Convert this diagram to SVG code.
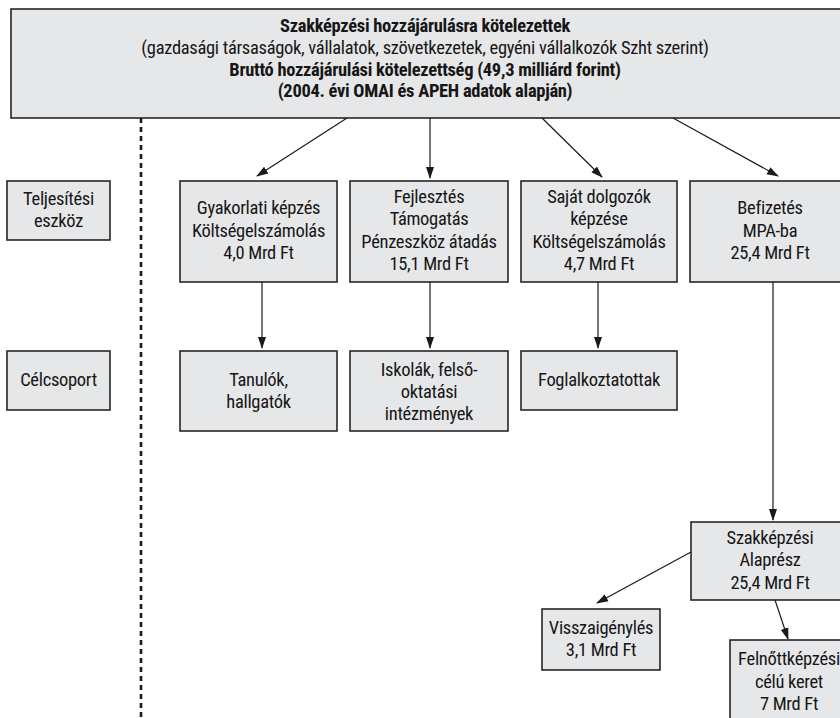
<svg xmlns="http://www.w3.org/2000/svg" width="840" height="718" viewBox="0 0 840 718">
<defs>
<style>
.box{fill:#e6e7e9;stroke:#262626;stroke-width:1.6}
.t{font-family:"Liberation Sans Narrow","Roboto Condensed","DejaVu Sans Condensed","Liberation Sans",sans-serif;font-size:18.5px;letter-spacing:-0.3px;fill:#161616;text-anchor:middle}
.b{font-weight:bold}
.c{stroke:#1a1a1a;stroke-width:1.2;fill:none;marker-end:url(#ah)}
</style>
<marker id="ah" markerUnits="userSpaceOnUse" markerWidth="12" markerHeight="10" viewBox="0 0 12 10" refX="11" refY="5" orient="auto">
<path d="M0,1 L12,5 L0,9 Z" fill="#1a1a1a"/>
</marker>
</defs>
<rect width="840" height="718" fill="#ffffff"/>
<g id="divider"><line x1="141" y1="118" x2="141" y2="718" stroke="#1a1a1a" stroke-width="2.6" stroke-dasharray="5,4"/></g>
<g id="top">
<rect class="box" x="11" y="9" width="840" height="109"/>
<text class="t b" x="425" y="32">Szakképzési hozzájárulásra kötelezettek</text>
<text class="t" x="425" y="54">(gazdasági társaságok, vállalatok, szövetkezetek, egyéni vállalkozók Szht szerint)</text>
<text class="t b" x="425" y="76">Bruttó hozzájárulási kötelezettség (49,3 milliárd forint)</text>
<text class="t b" x="425" y="97">(2004. évi OMAI és APEH adatok alapján)</text>
</g>
<g id="teljesitesi">
<rect class="box" x="7" y="181" width="103" height="59"/>
<text class="t" x="58.5" y="205">Teljesítési</text>
<text class="t" x="58.5" y="227">eszköz</text>
</g>
<g id="celcsoport">
<rect class="box" x="7" y="351" width="103" height="59"/>
<text class="t" x="58.5" y="386">Célcsoport</text>
</g>
<g id="gyakorlati">
<rect class="box" x="180" y="181" width="157" height="101"/>
<text class="t" x="258.5" y="214">Gyakorlati képzés</text>
<text class="t" x="258.5" y="237">Költségelszámolás</text>
<text class="t" x="258.5" y="259">4,0 Mrd Ft</text>
</g>
<g id="fejlesztes">
<rect class="box" x="350" y="181" width="158" height="101"/>
<text class="t" x="429" y="203">Fejlesztés</text>
<text class="t" x="429" y="225">Támogatás</text>
<text class="t" x="429" y="248">Pénzeszköz átadás</text>
<text class="t" x="429" y="270">15,1 Mrd Ft</text>
</g>
<g id="sajat">
<rect class="box" x="521" y="181" width="156" height="101"/>
<text class="t" x="599" y="203">Saját dolgozók</text>
<text class="t" x="599" y="225">képzése</text>
<text class="t" x="599" y="248">Költségelszámolás</text>
<text class="t" x="599" y="270">4,7 Mrd Ft</text>
</g>
<g id="befizetes">
<rect class="box" x="690" y="181" width="160" height="101"/>
<text class="t" x="770" y="214">Befizetés</text>
<text class="t" x="770" y="237">MPA-ba</text>
<text class="t" x="770" y="259">25,4 Mrd Ft</text>
</g>
<g id="tanulok">
<rect class="box" x="180" y="351" width="157" height="80"/>
<text class="t" x="258.5" y="386">Tanulók,</text>
<text class="t" x="258.5" y="408">hallgatók</text>
</g>
<g id="iskolak">
<rect class="box" x="350" y="351" width="158" height="80"/>
<text class="t" x="429" y="376">Iskolák, felső-</text>
<text class="t" x="429" y="398">oktatási</text>
<text class="t" x="429" y="420">intézmények</text>
</g>
<g id="foglalkoztatottak">
<rect class="box" x="521" y="351" width="156" height="59"/>
<text class="t" x="599" y="386">Foglalkoztatottak</text>
</g>
<g id="szakkepzesi">
<rect class="box" x="691" y="522" width="160" height="78"/>
<text class="t" x="770" y="544">Szakképzési</text>
<text class="t" x="770" y="566">Alaprész</text>
<text class="t" x="770" y="589">25,4 Mrd Ft</text>
</g>
<g id="visszaigenyles">
<rect class="box" x="542" y="609" width="118" height="61"/>
<text class="t" x="601" y="634">Visszaigénylés</text>
<text class="t" x="601" y="656">3,1 Mrd Ft</text>
</g>
<g id="felnottkepzesi">
<rect class="box" x="730" y="640" width="120" height="90"/>
<text class="t" x="789" y="665">Felnőttképzési</text>
<text class="t" x="789" y="688">célú keret</text>
<text class="t" x="789" y="710">7 Mrd Ft</text>
</g>
<g id="connectors">
<line class="c" x1="347" y1="118" x2="257" y2="176"/>
<line class="c" x1="430" y1="118" x2="430" y2="178"/>
<line class="c" x1="542" y1="118" x2="602" y2="177"/>
<line class="c" x1="673" y1="118" x2="778" y2="176"/>
<line class="c" x1="262" y1="282" x2="262" y2="348"/>
<line class="c" x1="430" y1="282" x2="430" y2="348"/>
<line class="c" x1="598" y1="282" x2="598" y2="348"/>
<line class="c" x1="773" y1="282" x2="773" y2="520"/>
<line class="c" x1="691" y1="552" x2="597" y2="603"/>
<line class="c" x1="775" y1="600" x2="788" y2="639"/>
</g>
</svg>
